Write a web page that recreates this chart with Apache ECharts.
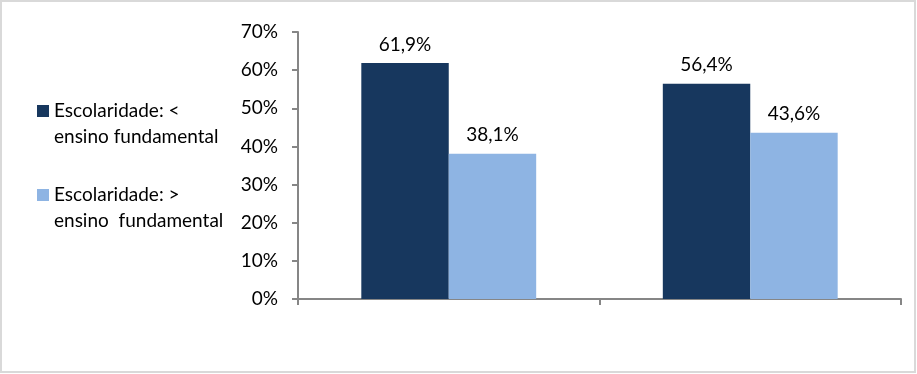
<!DOCTYPE html>
<html><head><meta charset="utf-8">
<script src="https://cdn.jsdelivr.net/npm/echarts@6/dist/echarts.min.js"></script>
<style>html,body{margin:0;padding:0;background:#fff}#c{width:917px;height:374px}</style>
</head><body><div id="c"></div>
<script>
const categories = ['Grupo A', 'Grupo B'];
const seriesNames = ['Escolaridade: <\nensino fundamental', 'Escolaridade: >\nensino  fundamental'];
const lowSchooling = [61.9, 56.4];
const highSchooling = [38.1, 43.6];
const yTicks = [0, 10, 20, 30, 40, 50, 60, 70];

const chart = echarts.init(document.getElementById('c'), null, {renderer: 'canvas'});
const font = 'Lato, "Liberation Sans", sans-serif';
const fmt = p => String(p.value.toFixed(1)).replace('.', ',') + '%';
chart.setOption({
  animation: false,
  textStyle: {fontFamily: font},
  graphic: [{type: 'rect', shape: {x: 1, y: 1, width: 914, height: 371}, style: {fill: 'none', stroke: '#d9d9d9', lineWidth: 2}, z: -1}],
  grid: {left: 298, right: 16, top: 32, bottom: 75, containLabel: false},
  legend: {
    orient: 'vertical', left: 32, top: 67, itemWidth: 12, itemHeight: 12, itemGap: 6,
    icon: 'rect',
    formatter: name => ' \n' + name,
    textStyle: {fontFamily: font, fontSize: 19, color: '#000', lineHeight: 26},
    data: seriesNames
  },
  xAxis: {
    type: 'category', data: categories,
    axisLine: {lineStyle: {color: '#868686', width: 2}},
    axisTick: {show: true, length: 6, lineStyle: {color: '#868686', width: 2}},
    axisLabel: {show: false}
  },
  yAxis: {
    type: 'value', min: yTicks[0], max: yTicks[yTicks.length - 1], interval: 10,
    axisLine: {show: true, lineStyle: {color: '#868686', width: 2}},
    axisTick: {show: true, length: 6, lineStyle: {color: '#868686', width: 2}},
    splitLine: {show: false},
    axisLabel: {formatter: '{value}%', fontSize: 19, color: '#000', margin: 20, fontFamily: font}
  },
  series: [
    {name: seriesNames[0], type: 'bar', data: lowSchooling, barGap: '0%', barCategoryGap: '42%',
     itemStyle: {color: '#17375E'},
     label: {show: true, position: 'top', distance: 9, formatter: fmt, fontSize: 19, color: '#000', fontFamily: font}},
    {name: seriesNames[1], type: 'bar', data: highSchooling, barGap: '0%', barCategoryGap: '42%',
     itemStyle: {color: '#8EB4E3'},
     label: {show: true, position: 'top', distance: 9, formatter: fmt, fontSize: 19, color: '#000', fontFamily: font}}
  ]
});
</script></body></html>
